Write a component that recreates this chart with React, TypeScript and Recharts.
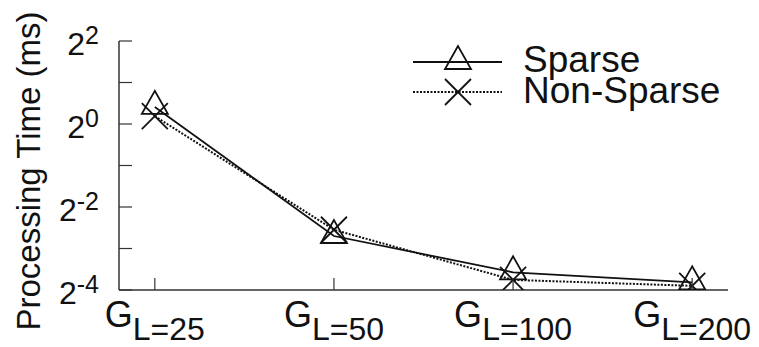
import React from 'react';
import { LineChart, Line, XAxis, YAxis } from 'recharts';

const categories = ['L=25', 'L=50', 'L=100', 'L=200'];
const sparse = [1.33, 0.154, 0.084, 0.071];
const nonSparse = [1.14, 0.171, 0.074, 0.067];
const yTicks = [0.0625, 0.125, 0.25, 0.5, 1, 2, 4];
const seriesNames = ['Sparse', 'Non-Sparse'];
const yTitle = 'Processing Time (ms)';

const FONT = '"Liberation Sans", Arial, Helvetica, sans-serif';
const INK = '#111';
const FRAME = '#333';

const data = categories.map((c, i) => ({ idx: i, cat: c, sparse: sparse[i], nonSparse: nonSparse[i] }));

const Triangle = ({ cx, cy }: any) => (
  <polygon
    points={`${cx},${cy - 16} ${cx - 13},${cy + 7} ${cx + 13},${cy + 7}`}
    fill="none"
    stroke={INK}
    strokeWidth={1.8}
  />
);

const Cross = ({ cx, cy }: any) => (
  <g stroke={INK} strokeWidth={1.8}>
    <line x1={cx - 13} y1={cy - 13} x2={cx + 13} y2={cy + 13} />
    <line x1={cx - 13} y1={cy + 13} x2={cx + 13} y2={cy - 13} />
  </g>
);

const LeftTick = (props: any) => {
  const { x, y, payload } = props;
  const e = Math.round(Math.log2(payload.value));
  return (
    <g>
      <line x1={x} x2={x + 13} y1={y} y2={y} stroke={FRAME} strokeWidth={1.2} />
      {e % 2 === 0 && (
        <text x={x - 20} y={y + 14} textAnchor="end" fontFamily={FONT} fill={INK}>
          <tspan fontSize={32}>2</tspan>
          <tspan fontSize={25} dy={-11}>{String(e)}</tspan>
        </text>
      )}
    </g>
  );
};

const RightTick = (props: any) => {
  const { x, y } = props;
  return <line x1={x} x2={x - 13} y1={y} y2={y} stroke={FRAME} strokeWidth={1.2} />;
};

const BottomTick = (props: any) => {
  const { x, y, payload } = props;
  const label = categories[payload.value];
  return (
    <g>
      <line x1={x} x2={x} y1={y} y2={y - 12} stroke={FRAME} strokeWidth={1.2} />
      <text x={x} y={y + 37} textAnchor="middle" fontFamily={FONT} fill={INK}>
        <tspan fontSize={36}>G</tspan>
        <tspan fontSize={32} dy={13}>{label}</tspan>
      </text>
    </g>
  );
};

const TopTick = (props: any) => {
  const { x, y } = props;
  return <line x1={x} x2={x} y1={y} y2={y + 12} stroke={FRAME} strokeWidth={1.2} />;
};

export default function App() {
  return (
    <div style={{ position: 'absolute', left: 0, top: 0, width: 759, height: 347, background: '#fff' }}>
      <LineChart width={759} height={347} data={data} margin={{ top: 41, right: 31, bottom: 0, left: 0 }}>
        <XAxis
          dataKey="idx"
          type="number"
          domain={[-0.2, 3.2]}
          ticks={[0, 1, 2, 3]}
          height={57}
          tickSize={0}
          tickMargin={0}
          tickLine={false}
          axisLine={{ stroke: FRAME, strokeWidth: 1.5 }}
          tick={<BottomTick />}
          interval={0}
        />
        <XAxis
          xAxisId="top"
          orientation="top"
          dataKey="idx"
          type="number"
          domain={[-0.2, 3.2]}
          ticks={[0, 1, 2, 3]}
          height={0}
          tickSize={0}
          tickMargin={0}
          tickLine={false}
          axisLine={{ stroke: FRAME, strokeWidth: 1.5 }}
          tick={<TopTick />}
          interval={0}
        />
        <YAxis
          scale="log"
          domain={[0.0625, 4]}
          ticks={yTicks}
          allowDataOverflow
          width={119}
          tickSize={0}
          tickMargin={0}
          tickLine={false}
          axisLine={{ stroke: FRAME, strokeWidth: 1.5 }}
          tick={<LeftTick />}
          interval={0}
        />
        <YAxis
          yAxisId="right"
          orientation="right"
          scale="log"
          domain={[0.0625, 4]}
          ticks={yTicks}
          allowDataOverflow
          width={0}
          tickSize={0}
          tickMargin={0}
          tickLine={false}
          axisLine={{ stroke: FRAME, strokeWidth: 1.5 }}
          tick={<RightTick />}
          interval={0}
        />
        <Line
          dataKey="nonSparse"
          name={seriesNames[1]}
          stroke={INK}
          strokeWidth={2}
          strokeDasharray="2 1.5"
          dot={<Cross />}
          isAnimationActive={false}
        />
        <Line
          dataKey="sparse"
          name={seriesNames[0]}
          stroke={INK}
          strokeWidth={1.8}
          dot={<Triangle />}
          isAnimationActive={false}
        />
      </LineChart>
      <svg width={759} height={347} style={{ position: 'absolute', left: 0, top: 0, pointerEvents: 'none' }}>
        <text
          x={40}
          y={171}
          transform="rotate(-90, 40, 171)"
          textAnchor="middle"
          fontFamily={FONT}
          fontSize={33}
          fill={INK}
        >
          {yTitle}
        </text>
        <g>
          <line x1={413} x2={502} y1={62} y2={62} stroke={INK} strokeWidth={1.8} />
          <Triangle cx={458} cy={62} />
          <text x={523} y={72} fontFamily={FONT} fontSize={37} fill={INK}>{seriesNames[0]}</text>
          <line x1={413} x2={502} y1={92} y2={92} stroke={INK} strokeWidth={2} strokeDasharray="2 1.5" />
          <Cross cx={458} cy={92} />
          <text x={523} y={103} fontFamily={FONT} fontSize={37} fill={INK}>{seriesNames[1]}</text>
        </g>
      </svg>
    </div>
  );
}
